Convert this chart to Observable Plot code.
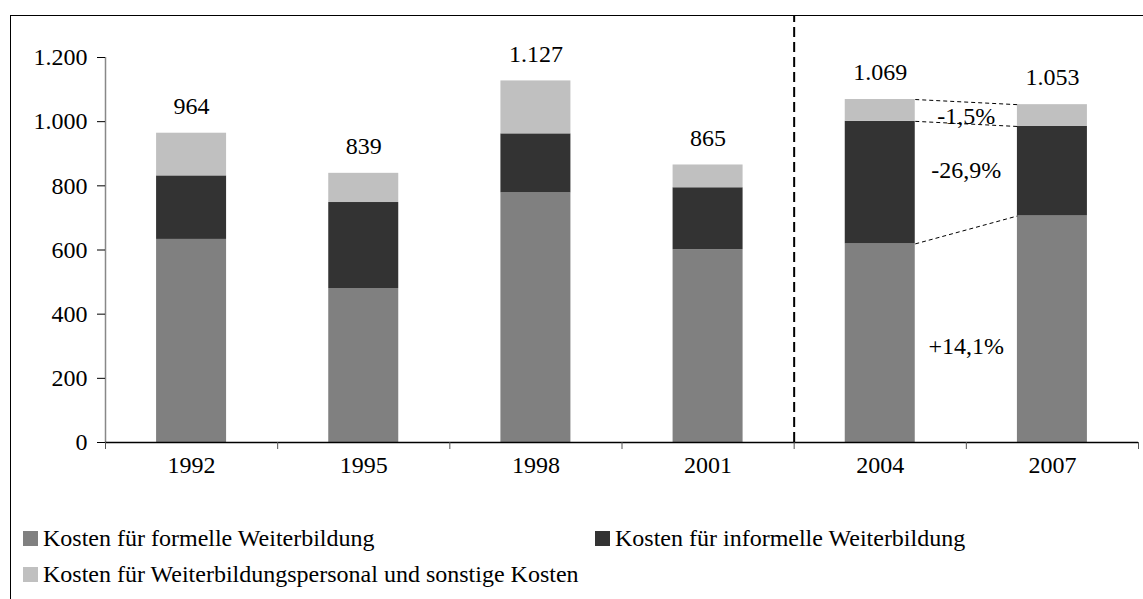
<!DOCTYPE html>
<html>
<head>
<meta charset="utf-8">
<script src="https://cdn.jsdelivr.net/npm/d3@7"></script>
<script src="https://cdn.jsdelivr.net/npm/@observablehq/plot@0.6"></script>
<style>
  body { margin: 0; background: #fff; }
  #wrap { position: relative; width: 1143px; height: 599px; overflow: hidden; }
  #frame { position: absolute; left: 10px; top: 15px; width: 1200px; height: 700px; border: 1.5px solid #000; box-sizing: border-box; pointer-events: none; }
  #chart { position: absolute; left: 0; top: 0; }
  #legend { position: absolute; left: 23px; top: 520px; width: 1160px; display: flex; flex-wrap: wrap; color: #000; }
  .item { width: 572px; height: 36.5px; display: flex; align-items: center; white-space: nowrap; }
  .sw { width: 15px; height: 15px; margin-right: 5px; flex: none; }
</style>
</head>
<body>
<div id="wrap">
  <div id="chart"></div>
  <div id="frame"></div>
  <div id="legend"></div>
</div>
<script>
// ---- data ----
const years = ["1992", "1995", "1998", "2001", "2004", "2007"];
const formal = [633, 480, 778, 601, 619, 706];
const informal = [198, 268, 184, 193, 382, 279];
const other = [133, 91, 165, 71, 68, 68];
const totals = [964, 839, 1127, 865, 1069, 1053];
const seriesNames = [
  "Kosten für formelle Weiterbildung",
  "Kosten für informelle Weiterbildung",
  "Kosten für Weiterbildungspersonal und sonstige Kosten"
];
const seriesColors = ["#808080", "#333333", "#c0c0c0"];
const changeLabels = ["-1,5%", "-26,9%", "+14,1%"];
const yTicks = [0, 200, 400, 600, 800, 1000, 1200];

// ---- derived ----
const FONT = "\"Liberation Serif\", serif";
const FS = 24;
document.getElementById("wrap").style.fontFamily = FONT;
document.getElementById("legend").style.fontSize = FS + "px";

const de = d3.formatLocale({decimal: ",", thousands: ".", grouping: [3], currency: ["", " €"]});
const fmt = de.format(",d");
const series = [formal, informal, other];
const segs = [];
years.forEach((yr, i) => {
  let base = 0;
  series.forEach((s, k) => {
    segs.push({i, k, y1: base, y2: base + s[i]});
    base += s[i];
  });
});
const hw = 0.2033; // half bar width in band units
const ia = 4, ib = 5; // 2004 and 2007
const stackTop = (i, k) => series.slice(0, k + 1).reduce((acc, s) => acc + s[i], 0);
const links = [2, 1, 0].map(k => ({x1: ia + hw, x2: ib - hw, y1: stackTop(ia, k), y2: stackTop(ib, k)}));
const pctPos = [
  {label: changeLabels[0], y: (stackTop(ia,2) + stackTop(ib,2) + stackTop(ia,1) + stackTop(ib,1)) / 4 - 9},
  {label: changeLabels[1], y: (stackTop(ia,1) + stackTop(ib,1) + stackTop(ia,0) + stackTop(ib,0)) / 4 + 20},
  {label: changeLabels[2], y: (stackTop(ia,0) + stackTop(ib,0)) / 4 - 30}
];

const txt = {fontFamily: FONT, fontSize: FS, fill: "#000"};
const chart = Plot.plot({
  width: 1143,
  height: 490,
  marginLeft: 105,
  marginRight: 5,
  marginTop: 57,
  marginBottom: 48,
  style: {fontFamily: FONT, fontSize: FS + "px", color: "#000", background: "transparent"},
  x: {type: "linear", domain: [-0.5, 5.5]},
  y: {domain: [0, 1200]},
  marks: [
    Plot.rect(segs, {x1: d => d.i - hw, x2: d => d.i + hw, y1: "y1", y2: "y2", fill: d => seriesColors[d.k]}),
    Plot.ruleX([-0.5], {stroke: "#888", strokeWidth: 1.5}),
    Plot.ruleY([0], {stroke: "#000", strokeWidth: 1.5}),
    Plot.axisY({ticks: yTicks, tickSize: 8, tickPadding: 10, tickFormat: fmt, stroke: "#000", ...txt}),
    Plot.axisX({ticks: d3.range(-0.5, 6, 1), tickSize: 7, tickFormat: () => "", stroke: "#555"}),
    Plot.text(years, {x: (d, i) => i, y: 0, dy: 23, text: d => d, ...txt}),
    Plot.text(totals, {x: (d, i) => i, y: d => d, dy: -27, text: d => fmt(d), ...txt}),
    Plot.ruleX([3.5], {y1: 0, y2: 1330, stroke: "#000", strokeWidth: 2, strokeDasharray: "10,5"}),
    Plot.link(links, {x1: "x1", x2: "x2", y1: "y1", y2: "y2", stroke: "#000", strokeWidth: 1, strokeDasharray: "4,3"}),
    Plot.text(pctPos, {x: 4.5, y: "y", text: "label", ...txt})
  ]
});
document.getElementById("chart").appendChild(chart);

const legend = document.getElementById("legend");
seriesNames.forEach((name, k) => {
  const it = document.createElement("div");
  it.className = "item";
  const sw = document.createElement("span");
  sw.className = "sw";
  sw.style.background = seriesColors[k];
  const t = document.createElement("span");
  t.textContent = name;
  t.style.fontFamily = FONT;
  it.appendChild(sw);
  it.appendChild(t);
  legend.appendChild(it);
});
</script>
</body>
</html>
